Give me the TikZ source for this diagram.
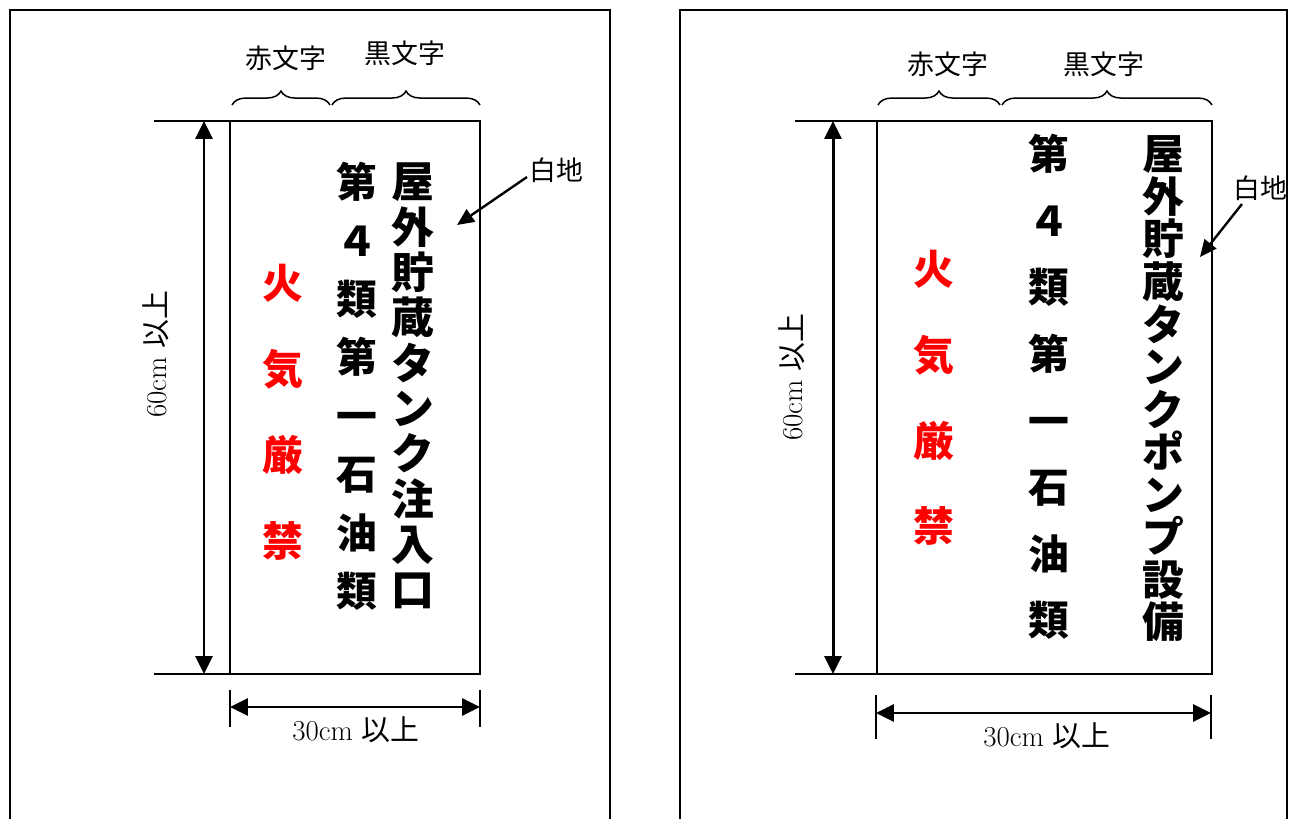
\documentclass[tikz,border=0pt]{standalone}
\usepackage{fontspec}
\newfontfamily\jp{Noto Sans CJK JP}
\usetikzlibrary{arrows.meta,decorations.pathreplacing}
\newcommand\ijo{{\jp 以上}}
\definecolor{signred}{RGB}{255,0,0}
\tikzset{
  frameline/.style={line width=2pt},
  signbox/.style={line width=1.8pt},
  extline/.style={line width=1.3pt},
  dimarrow/.style={line width=3pt,{Triangle[length=18pt,width=17pt]}-{Triangle[length=18pt,width=17pt]}},
  ptrarrow/.style={line width=2.4pt,-{Triangle[length=17pt,width=15pt]}},
  bracestyle/.style={line width=1.5pt,decorate,decoration={brace,amplitude=14pt,aspect=0.5}},
  lbl/.style={font=\jp\fontsize{27}{27}\selectfont,inner sep=0pt},
  dimlbl/.style={font=\fontsize{29}{29}\selectfont,inner sep=0pt},
  blackcol/.style={inner sep=0pt,align=center,text=black},
  redcol/.style={inner sep=0pt,align=center,text=signred},
}
\begin{document}
\begin{tikzpicture}[x=1bp,y=-1bp]
\useasboundingbox (0,0) rectangle (1294,819);
% ---------- left panel ----------
\draw[frameline] (10,819) -- (10,10) -- (610,10) -- (610,819);
\coordinate (L-tl) at (230,121);
\coordinate (L-br) at (480,674);
\draw[signbox] (L-tl) rectangle (L-br);
% extension lines
\coordinate (L-e1a) at (154,121); \coordinate (L-e1b) at (255,121);
\coordinate (L-e2a) at (154,674); \coordinate (L-e2b) at (255,674);
\draw[extline] (L-e1a) -- (L-e1b);
\draw[extline] (L-e2a) -- (L-e2b);
\coordinate (L-v1) at (204,121); \coordinate (L-v2) at (204,674);
\draw[dimarrow] (L-v1) -- (L-v2);
\node[dimlbl,rotate=90] (L-h) at (156,354) {60cm \ijo};
% bottom dim
\coordinate (L-t1a) at (230,690); \coordinate (L-t1b) at (230,727);
\coordinate (L-t2a) at (480,690); \coordinate (L-t2b) at (480,727);
\draw[extline] (L-t1a) -- (L-t1b);
\draw[extline] (L-t2a) -- (L-t2b);
\coordinate (L-h1) at (230,707); \coordinate (L-h2) at (480,707);
\draw[dimarrow] (L-h1) -- (L-h2);
\node[dimlbl] (L-w) at (356,730) {30cm \ijo};
% braces
\draw[bracestyle] (232,105) -- (330,105);
\draw[bracestyle] (332,105) -- (480,105);
\node[lbl] (L-red) at (286,58) {赤文字};
\node[lbl] (L-blk) at (405,53) {黒文字};
% white ground
\node[lbl] (L-wg) at (556,170) {白地};
\coordinate (L-wgs) at (527,177);
\coordinate (L-wge) at (457,225);
\draw[ptrarrow] (L-wgs) -- (L-wge);
% sign text
\node[blackcol,font=\jp\bfseries\fontsize{43}{45.5}\selectfont] (L-c1) at (413,386)
  {屋\\外\\貯\\蔵\\タ\\ン\\ク\\注\\入\\口};
\node[blackcol,font=\jp\bfseries\fontsize{41}{58.7}\selectfont] (L-c2) at (357,386.5)
  {第\\４\\類\\第\\一\\石\\油\\類};
\node[redcol,font=\jp\bfseries\fontsize{41}{86.3}\selectfont] (L-c3) at (283,412.5)
  {火\\気\\厳\\禁};
% ---------- right panel ----------
\draw[frameline] (680,819) -- (680,10) -- (1287,10) -- (1287,819);
\coordinate (R-tl) at (877,121);
\coordinate (R-br) at (1212,674);
\draw[signbox] (R-tl) rectangle (R-br);
\coordinate (R-e1a) at (795,121); \coordinate (R-e1b) at (897,121);
\coordinate (R-e2a) at (795,674); \coordinate (R-e2b) at (897,674);
\draw[extline] (R-e1a) -- (R-e1b);
\draw[extline] (R-e2a) -- (R-e2b);
\coordinate (R-v1) at (833,121); \coordinate (R-v2) at (833,674);
\draw[dimarrow] (R-v1) -- (R-v2);
\node[dimlbl,rotate=90] (R-h) at (792,377) {60cm \ijo};
\coordinate (R-t1a) at (876,695); \coordinate (R-t1b) at (876,739);
\coordinate (R-t2a) at (1211,695); \coordinate (R-t2b) at (1211,739);
\draw[extline] (R-t1a) -- (R-t1b);
\draw[extline] (R-t2a) -- (R-t2b);
\coordinate (R-h1) at (876,713); \coordinate (R-h2) at (1211,713);
\draw[dimarrow] (R-h1) -- (R-h2);
\node[dimlbl] (R-w) at (1047,736) {30cm \ijo};
\draw[bracestyle] (878,105) -- (1000,105);
\draw[bracestyle] (1002,105) -- (1212,105);
\node[lbl] (R-red) at (948,64) {赤文字};
\node[lbl] (R-blk) at (1104,64) {黒文字};
\node[lbl] (R-wg) at (1260,188) {白地};
\coordinate (R-wgs) at (1242,204);
\coordinate (R-wge) at (1200,257);
\draw[ptrarrow] (R-wgs) -- (R-wge);
\node[blackcol,font=\jp\bfseries\fontsize{42}{42.7}\selectfont] (R-c1) at (1163,389)
  {屋\\外\\貯\\蔵\\タ\\ン\\ク\\ポ\\ン\\プ\\設\\備};
\node[blackcol,font=\jp\bfseries\fontsize{41}{66.9}\selectfont] (R-c2) at (1049,387)
  {第\\４\\類\\第\\一\\石\\油\\類};
\node[redcol,font=\jp\bfseries\fontsize{41}{86}\selectfont] (R-c3) at (934,398)
  {火\\気\\厳\\禁};
\end{tikzpicture}
\end{document}
